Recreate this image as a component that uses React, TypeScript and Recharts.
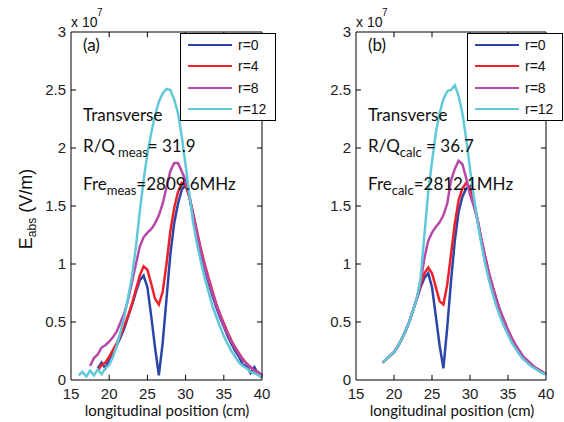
import { LineChart, Line, XAxis, YAxis, Legend, ReferenceLine } from 'recharts';

// panel (a): measured field, x in cm, E in 1e7 V/m
const xA = [16, 16.5, 17, 17.5, 18, 18.5, 19, 19.5, 20, 20.5, 21, 21.5, 22, 22.5, 23, 23.5, 24, 24.5, 25, 25.5, 26, 26.5, 27, 27.5, 28, 28.5, 29, 29.5, 30, 30.5, 31, 31.5, 32, 32.5, 33, 33.5, 34, 34.5, 35, 35.5, 36, 36.5, 37, 37.5, 38, 38.5, 39, 39.5, 40];
const r0A = [null, null, null, null, null, 0.1, 0.15, 0.1, 0.18, 0.23, 0.3, 0.37, 0.45, 0.55, 0.65, 0.76, 0.86, 0.9, 0.8, 0.55, 0.28, 0.04, 0.32, 0.7, 1.08, 1.35, 1.52, 1.64, 1.68, 1.58, 1.4, 1.24, 1.09, 0.96, 0.84, 0.73, 0.63, 0.54, 0.46, 0.38, 0.31, 0.25, 0.2, 0.13, 0.12, 0.06, 0.11, 0.05, 0.02];
const r4A = [null, null, null, null, null, 0.08, 0.13, 0.15, 0.2, 0.26, 0.32, 0.39, 0.47, 0.56, 0.66, 0.78, 0.9, 0.98, 0.95, 0.83, 0.7, 0.65, 0.76, 1.0, 1.28, 1.48, 1.62, 1.7, 1.68, 1.58, 1.43, 1.28, 1.13, 1.0, 0.88, 0.77, 0.66, 0.57, 0.49, 0.41, 0.34, 0.28, 0.23, 0.18, 0.14, 0.11, 0.08, 0.06, 0.03];
const r8A = [null, null, null, 0.12, 0.19, 0.22, 0.28, 0.3, 0.33, 0.37, 0.42, 0.5, 0.58, 0.7, 0.85, 1.0, 1.15, 1.23, 1.27, 1.3, 1.35, 1.42, 1.52, 1.66, 1.8, 1.87, 1.87, 1.8, 1.72, 1.58, 1.42, 1.26, 1.11, 0.98, 0.86, 0.75, 0.65, 0.56, 0.47, 0.4, 0.33, 0.27, 0.22, 0.17, 0.14, 0.11, 0.08, 0.07, 0.04];
const r12A = [0.04, 0.07, 0.03, 0.08, 0.04, 0.09, 0.05, 0.1, 0.13, 0.2, 0.3, 0.42, 0.55, 0.72, 0.9, 1.15, 1.45, 1.72, 1.95, 2.13, 2.28, 2.4, 2.47, 2.51, 2.5, 2.42, 2.3, 2.1, 1.85, 1.6, 1.35, 1.17, 1.02, 0.88, 0.76, 0.64, 0.55, 0.46, 0.38, 0.31, 0.25, 0.2, 0.15, 0.12, 0.1, 0.07, 0.06, 0.04, 0.03];

// panel (b): calculated field
const xB = [18.5, 19, 19.5, 20, 20.5, 21, 21.5, 22, 22.5, 23, 23.5, 24, 24.5, 25, 25.5, 26, 26.5, 27, 27.5, 28, 28.5, 29, 29.5, 30, 30.5, 31, 31.5, 32, 32.5, 33, 33.5, 34, 34.5, 35, 35.5, 36, 36.5, 37, 37.5, 38, 38.5, 39, 39.5, 40];
const r0B = [0.15, 0.18, 0.21, 0.24, 0.29, 0.35, 0.42, 0.5, 0.6, 0.7, 0.8, 0.88, 0.92, 0.8, 0.55, 0.3, 0.1, 0.45, 0.85, 1.2, 1.45, 1.58, 1.65, 1.67, 1.55, 1.37, 1.2, 1.05, 0.91, 0.79, 0.68, 0.58, 0.5, 0.42, 0.35, 0.29, 0.24, 0.2, 0.16, 0.13, 0.11, 0.09, 0.07, 0.05];
const r4B = [0.15, 0.18, 0.21, 0.24, 0.29, 0.35, 0.42, 0.5, 0.6, 0.7, 0.82, 0.92, 0.97, 0.92, 0.8, 0.68, 0.65, 0.82, 1.08, 1.35, 1.55, 1.65, 1.7, 1.65, 1.52, 1.38, 1.21, 1.06, 0.92, 0.8, 0.69, 0.59, 0.51, 0.43, 0.36, 0.3, 0.25, 0.2, 0.17, 0.14, 0.11, 0.09, 0.07, 0.05];
const r8B = [0.15, 0.18, 0.21, 0.24, 0.29, 0.35, 0.42, 0.5, 0.6, 0.7, 0.84, 1.05, 1.2, 1.27, 1.32, 1.36, 1.42, 1.52, 1.72, 1.82, 1.89, 1.86, 1.74, 1.6, 1.5, 1.38, 1.21, 1.06, 0.92, 0.8, 0.69, 0.59, 0.51, 0.43, 0.36, 0.3, 0.25, 0.2, 0.17, 0.14, 0.11, 0.09, 0.07, 0.05];
const r12B = [0.15, 0.18, 0.21, 0.24, 0.29, 0.35, 0.42, 0.5, 0.6, 0.7, 0.88, 1.25, 1.62, 1.88, 2.13, 2.3, 2.42, 2.49, 2.5, 2.54, 2.45, 2.3, 2.08, 1.82, 1.58, 1.36, 1.17, 1.0, 0.86, 0.74, 0.63, 0.54, 0.46, 0.39, 0.32, 0.27, 0.22, 0.18, 0.15, 0.12, 0.1, 0.08, 0.06, 0.05];

const names = ['r=0', 'r=4', 'r=8', 'r=12'];
const colors = ['#2c46a8', '#f0202a', '#b848a8', '#60c8d8'];
const xTicks = [15, 20, 25, 30, 35, 40];
const yTicks = [0, 0.5, 1, 1.5, 2, 2.5, 3];

const toRows = (xs: number[], series: (number | null)[][]) =>
  xs.map((x, i) => {
    const row: Record<string, number | null> = { x };
    series.forEach((s, j) => (row['s' + j] = s[i]));
    return row;
  });

const rowsA = toRows(xA, [r0A, r4A, r8A, r12A]);
const rowsB = toRows(xB, [r0B, r4B, r8B, r12B]);

const arial = '"Liberation Sans", Arial, sans-serif';
const tickFont = { fontSize: 15, fill: '#222', fontFamily: arial };
const black = { stroke: '#000', strokeWidth: 1 };
// inward tick length in data units (about 5px)
const DX = 0.65;
const DY = 0.045;

const renderLegend = (props: any) => {
  const items = [...(props.payload || [])].sort((a: any, b: any) => String(a.dataKey).localeCompare(String(b.dataKey)));
  return (
    <div style={{ position: 'relative', width: 96, height: 88, border: '1px solid #000', background: '#fff', boxSizing: 'border-box', fontFamily: arial, fontSize: 14, color: '#111' }}>
      {items.map((p: any, i: number) => (
        <div key={p.value} style={{ position: 'absolute', left: 7, top: 1 + i * 21.3, height: 20, display: 'flex', alignItems: 'center' }}>
          <span style={{ display: 'inline-block', width: 44, borderTop: `2.5px solid ${p.color}`, marginRight: 6 }} />
          <span>{p.value}</span>
        </div>
      ))}
    </div>
  );
};

function Panel({ left, rows, margin, legendLeft }: { left: number; rows: any[]; margin: any; legendLeft: number }) {
  return (
    <div style={{ position: 'absolute', left, top: 0 }}>
      <LineChart width={282} height={422} data={rows} margin={margin}>
        <XAxis dataKey="x" type="number" domain={[15, 40]} ticks={xTicks} interval={0} height={30} tickSize={0} tickMargin={8} tick={tickFont} axisLine={black} tickLine={false} />
        <XAxis xAxisId="top" orientation="top" dataKey="x" type="number" domain={[15, 40]} ticks={xTicks} height={2} tick={false} axisLine={black} tickLine={false} />
        <YAxis type="number" domain={[0, 3]} ticks={yTicks} interval={0} width={40} tickSize={0} tickMargin={5} tick={tickFont} axisLine={black} tickLine={false} />
        <YAxis yAxisId="right" orientation="right" type="number" domain={[0, 3]} ticks={yTicks} width={2} tick={false} axisLine={black} tickLine={false} />
        {names.map((n, i) => (
          <Line key={n} dataKey={'s' + i} name={n} stroke={colors[i]} strokeWidth={2.5} dot={false} type="linear" isAnimationActive={false} />
        ))}
        {/* MATLAB style inward ticks on all four sides */}
        {xTicks.slice(1, -1).map((t) => (
          <ReferenceLine key={'b' + t} segment={[{ x: t, y: 0 }, { x: t, y: DY }]} stroke="#000" ifOverflow="visible" />
        ))}
        {xTicks.slice(1, -1).map((t) => (
          <ReferenceLine key={'t' + t} segment={[{ x: t, y: 3 }, { x: t, y: 3 - DY }]} stroke="#000" ifOverflow="visible" />
        ))}
        {yTicks.slice(1, -1).map((t) => (
          <ReferenceLine key={'l' + t} segment={[{ x: 15, y: t }, { x: 15 + DX, y: t }]} stroke="#000" ifOverflow="visible" />
        ))}
        {yTicks.slice(1, -1).map((t) => (
          <ReferenceLine key={'r' + t} segment={[{ x: 40, y: t }, { x: 40 - DX, y: t }]} stroke="#000" ifOverflow="visible" />
        ))}
        <Legend layout="vertical" align="center" verticalAlign="middle" content={renderLegend} wrapperStyle={{ left: legendLeft, top: 33, width: 96, height: 88 }} />
      </LineChart>
    </div>
  );
}

const lato = 'Lato, "Open Sans", sans-serif';

function Notes({ x, tag, sub, rq, fre }: { x: number; tag: string; sub: string; rq: string; fre: string }) {
  return (
    <g fill="#111">
      <text x={x - 1} y={27} fontFamily={arial} fontSize={14}>x 10</text>
      <text x={x + 25} y={16} fontFamily={arial} fontSize={10}>7</text>
      <text x={x + 11} y={51} fontFamily={lato} fontSize={17}>{tag}</text>
      <text x={x + 11} y={121} fontFamily={lato} fontSize={17}>Transverse</text>
      <text x={x + 11} y={152} fontFamily={lato} fontSize={17}>
        R/Q<tspan fontSize={13} dy={5}>{sub === 'meas' ? ' meas' : 'calc'}</tspan>
        <tspan dy={-5}>{rq}</tspan>
      </text>
      <text x={x + 11} y={190} fontFamily={lato} fontSize={17}>
        Fre<tspan fontSize={13} dy={5}>{sub}</tspan>
        <tspan dy={-5}>{fre}</tspan>
      </text>
      <text x={x + 95} y={416} fontFamily={lato} fontSize={15} textAnchor="middle">longitudinal position (cm)</text>
    </g>
  );
}

export default function App() {
  return (
    <div style={{ position: 'absolute', left: 0, top: 0, width: 564, height: 422, background: '#fff' }}>
      <Panel left={0} rows={rowsA} margin={{ top: 30, right: 18, bottom: 12, left: 31 }} legendLeft={180} />
      <Panel left={282} rows={rowsB} margin={{ top: 30, right: 16, bottom: 12, left: 34 }} legendLeft={185} />
      <svg width={564} height={422} style={{ position: 'absolute', left: 0, top: 0, pointerEvents: 'none' }}>
        <text transform="translate(32,209) rotate(-90)" textAnchor="middle" fontFamily={arial} fontSize={18} fill="#111">
          E<tspan fontSize={12} dy={4}>abs</tspan>
          <tspan dy={-4}> (V/m)</tspan>
        </text>
        <Notes x={72} tag="(a)" sub="meas" rq="= 31.9" fre="=2809.6MHz" />
        <Notes x={357} tag="(b)" sub="calc" rq=" = 36.7" fre="=2812.1MHz" />
      </svg>
    </div>
  );
}
